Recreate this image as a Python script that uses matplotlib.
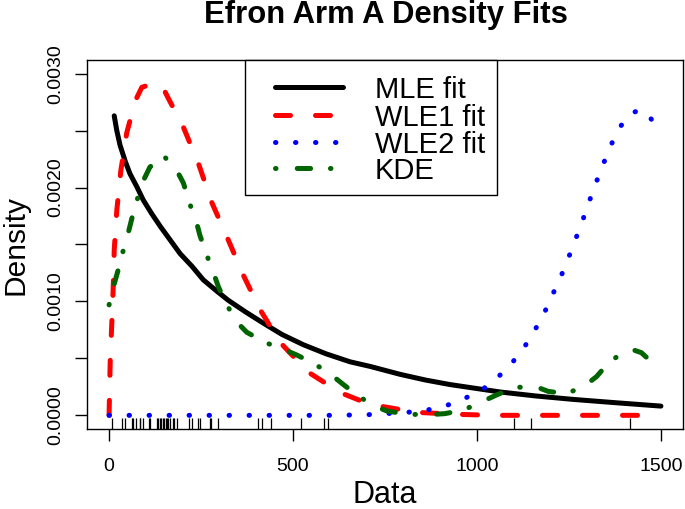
import numpy as np
import matplotlib
matplotlib.use("Agg")
import matplotlib.pyplot as plt
from matplotlib.patches import Rectangle
from matplotlib.lines import Line2D

plt.rcParams['font.family'] = ['Liberation Sans', 'DejaVu Sans']
plt.rcParams['lines.scale_dashes'] = False

# values
mle_x = [14, 21, 30, 44, 57, 75, 93, 116, 139, 166, 193, 225, 256, 293, 324, 370, 419, 470,
         528, 590, 655, 709, 791, 860, 927, 1063, 1160, 1261, 1380, 1500]
mle_y = [0.00263, 0.00250, 0.00237, 0.00223, 0.00212, 0.00201, 0.00189, 0.00177, 0.00166,
         0.00154, 0.00142, 0.00131, 0.00119, 0.00109, 0.00101, 0.00091, 0.00081, 0.00071,
         0.00062, 0.00054, 0.00047, 0.00043, 0.00036, 0.00031, 0.00027, 0.000205,
         0.00017, 0.00014, 0.00011, 0.000081]

wle1_x = [0, 3, 7, 11, 14, 21, 32, 48, 71, 89, 116, 143, 160, 202, 243, 279, 320, 365, 410,
          465, 541, 628, 709, 837, 946, 1043, 1500]
wle1_y = [0.0, 0.000463, 0.000778, 0.00110, 0.00145, 0.00180, 0.00215, 0.00248, 0.00276,
          0.00288, 0.00291, 0.00290, 0.00279, 0.00253, 0.00221, 0.00187, 0.00157, 0.00123,
          0.00093, 0.00064, 0.00038, 0.00020, 0.000096, 0.000026, 0.000009, 0.0, 0.0]

wle2_x = [0, 300, 600, 700, 810, 864, 918, 967, 1015, 1056, 1094, 1128, 1155, 1182, 1204,
          1227, 1246, 1266, 1285, 1302, 1321, 1340, 1360, 1382, 1413, 1440, 1460, 1490, 1500]
wle2_y = [0.0, 0.0, 0.0, 0.000005, 0.000026, 0.000046, 0.000087, 0.000149, 0.000227, 0.000332,
          0.000455, 0.000595, 0.000735, 0.000892, 0.00105, 0.00121, 0.00136, 0.00153, 0.00169,
          0.00185, 0.00202, 0.00218, 0.00234, 0.00250, 0.00264, 0.00268, 0.00266, 0.00253, 0.00247]

kde_x = [0, 12, 25, 37, 52, 62, 77, 93, 111, 148, 184, 202, 218, 238, 247, 264, 284, 297, 320,
         347, 374, 424, 474, 510, 560, 610, 637, 677, 718, 755, 813, 872, 913, 963, 1017, 1054,
         1099, 1153, 1194, 1244, 1293, 1325, 1360, 1402, 1420, 1447, 1484, 1500]
kde_y = [0.00097, 0.00113, 0.00128, 0.00143, 0.00160, 0.00173, 0.00190, 0.00206, 0.00218,
         0.00228, 0.00215, 0.00204, 0.00187, 0.00169, 0.00158, 0.00142, 0.00125, 0.00113,
         0.00097, 0.00082, 0.00073, 0.00064, 0.00058, 0.00053, 0.00045, 0.00034, 0.00027,
         0.00017, 0.000087, 0.000038, 0.000009, 0.000006, 0.000015, 0.000046, 0.000125,
         0.00018, 0.00024, 0.00026, 0.00021, 0.00019, 0.00026, 0.00034, 0.00047, 0.00056,
         0.00058, 0.00055, 0.00044, 0.00042]

rug = [7, 34, 42, 63, 64, 74, 83, 84, 91, 108, 112, 129, 133, 139, 140, 146, 149, 154, 157,
       160, 165, 173, 176, 185, 218, 225, 241, 248, 273, 277, 297, 405, 417, 440, 523, 583,
       594, 1101, 1146, 1417]

labels = ['MLE fit', 'WLE1 fit', 'WLE2 fit', 'KDE']
xticks = [0, 500, 1000, 1500]
yticks = [0.0, 0.0005, 0.0010, 0.0015, 0.0020, 0.0025, 0.0030]
ylabels = ["0.0000", "", "0.0010", "", "0.0020", "", "0.0030"]

W, H = 685, 509
fig = plt.figure(figsize=(W/100, H/100), dpi=100)
ax = fig.add_axes([87/W, 80/H, 596/W, 369/H])

def fx(px):
    return px / W

def fy(py):
    return 1 - py / H

lw = 3.6
styles = [dict(color='black', solid_capstyle='round'),
          dict(color='red', dashes=(10.8, 18), dash_capstyle='round'),
          dict(color='blue', dashes=(0.3, 14.1), dash_capstyle='round'),
          dict(color='#006400', dashes=(0.36, 15.3, 9.6, 14.3), dash_capstyle='round')]

series = [(mle_x, mle_y), (wle1_x, wle1_y), (wle2_x, wle2_y), (kde_x, kde_y)]
for (xs, ys), st in zip(series, styles):
    ax.plot(xs, ys, lw=lw, **st)

ax.vlines(rug, 0, 0.03, transform=ax.get_xaxis_transform(), color='black', lw=0.9)

ax.set_xlim(-60, 1560)
ax.set_ylim(-0.00012, 0.00312)
ax.set_xticks(xticks)
ax.set_xticklabels([str(t) for t in xticks])
ax.set_yticks(yticks)
ax.set_yticklabels(ylabels, rotation=90, va='center')
ax.tick_params(axis='x', direction='out', length=8.6, width=1, labelsize=14, pad=12)
ax.tick_params(axis='y', direction='out', length=8.6, width=1, labelsize=14, pad=8)
for s in ax.spines.values():
    s.set_linewidth(1)

# legend box drawn by hand, like R's legend()
fig.patches.append(Rectangle((fx(245), fy(195)), fx(497) - fx(245), fy(60) - fy(195),
                             transform=fig.transFigure, facecolor='white',
                             edgecolor='black', lw=1, zorder=5))
rows = [87, 115, 142, 168]
for lab, st, ry in zip(labels, styles, rows):
    fig.lines.append(Line2D([fx(275), fx(343)], [fy(ry), fy(ry)], lw=lw,
                            transform=fig.transFigure, zorder=6, **st))
    fig.text(fx(375), fy(ry), lab, ha='left', va='center_baseline', fontsize=21, zorder=6)

fig.text(fx(386), fy(23), "Efron Arm A Density Fits", ha='center', va='baseline',
         fontsize=22.3, fontweight='bold')
fig.text(fx(385), fy(503), "Data", ha='center', va='baseline', fontsize=22)
fig.text(fx(24), fy(245), "Density", ha='center', va='baseline', fontsize=21.5,
         rotation=90, rotation_mode='anchor')

fig.savefig("out.png", dpi=100)
